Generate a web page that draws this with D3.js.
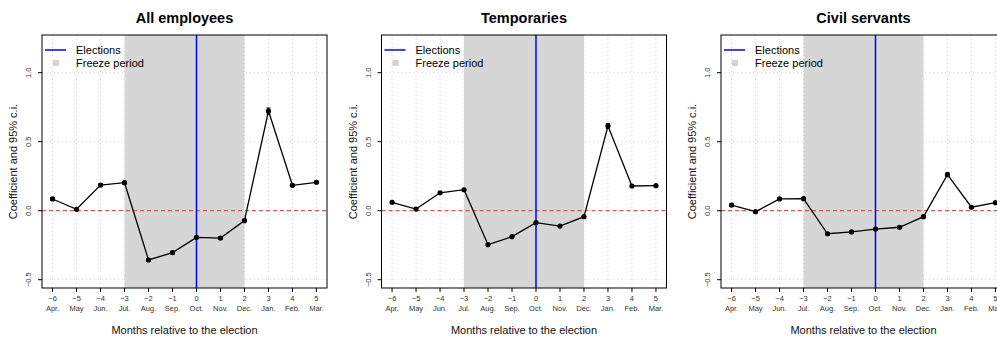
<!DOCTYPE html>
<html>
<head>
<meta charset="utf-8">
<script src="https://cdn.jsdelivr.net/npm/d3@7"></script>
<style>
  body { margin: 0; background: #fff; }
  text { font-family: "Liberation Sans", Arial, sans-serif; }
</style>
</head>
<body>
<svg id="chart" width="997" height="337"></svg>
<script>
// months relative to the election and their calendar names
const months = [-6, -5, -4, -3, -2, -1, 0, 1, 2, 3, 4, 5]
const monthNames = ["Apr.", "May", "Jun.", "Jul.", "Aug.", "Sep.", "Oct.", "Nov.", "Dec.", "Jan.", "Feb.", "Mar."]
const yTicks = [-0.5, 0.0, 0.5, 1.0]
const titles = ["All employees", "Temporaries", "Civil servants"]

// coefficients
const allEmployees = [0.085, 0.010, 0.186, 0.203, -0.357, -0.304, -0.193, -0.198, -0.072, 0.722, 0.184, 0.206]
const temporaries = [0.061, 0.012, 0.130, 0.152, -0.246, -0.188, -0.087, -0.111, -0.043, 0.614, 0.179, 0.181]
const civilServants = [0.041, -0.007, 0.085, 0.087, -0.167, -0.154, -0.133, -0.120, -0.043, 0.261, 0.025, 0.058]
// half width of the 95% c.i.
const ciAll = [0.010, 0.008, 0.010, 0.010, 0.010, 0.010, 0.010, 0.010, 0.010, 0.022, 0.010, 0.010]
const ciTemp = [0.008, 0.008, 0.008, 0.008, 0.010, 0.008, 0.008, 0.008, 0.008, 0.018, 0.008, 0.008]
const ciCivil = [0.008, 0.008, 0.008, 0.008, 0.008, 0.008, 0.008, 0.008, 0.008, 0.014, 0.008, 0.008]

const freeze = [-3, 2]
const election = 0

const series = [allEmployees, temporaries, civilServants]
const cis = [ciAll, ciTemp, ciCivil]

const svg = d3.select('#chart')
const panelW = 339.5
const margin = {top: 35, left: 42, plotW: 285, bottom: 288}

const y = d3.scaleLinear().domain([-0.56, 1.273]).range([margin.bottom, margin.top])
const minus = s => s.replace('-', '\u2212')

titles.forEach((title, p) => {
  const x0 = margin.left + p * panelW
  const x = d3.scaleLinear().domain([-6.44, 5.44]).range([x0, x0 + margin.plotW])
  const g = svg.append('g')
  const clipId = 'clip' + p
  g.append('clipPath').attr('id', clipId)
    .append('rect').attr('x', x0).attr('y', margin.top)
    .attr('width', margin.plotW).attr('height', margin.bottom - margin.top)
  const inner = g.append('g').attr('clip-path', `url(#${clipId})`)

  // grid
  inner.selectAll('.vgrid').data(months).enter().append('line')
    .attr('x1', d => x(d)).attr('x2', d => x(d))
    .attr('y1', margin.top).attr('y2', margin.bottom)
    .attr('stroke', '#d3d3d3').attr('stroke-width', 1).attr('stroke-dasharray', '1,3')
  inner.selectAll('.hgrid').data(yTicks).enter().append('line')
    .attr('x1', x0).attr('x2', x0 + margin.plotW)
    .attr('y1', d => y(d)).attr('y2', d => y(d))
    .attr('stroke', '#d3d3d3').attr('stroke-width', 1).attr('stroke-dasharray', '1,3')

  // freeze period
  inner.append('rect')
    .attr('x', x(freeze[0])).attr('y', margin.top)
    .attr('width', x(freeze[1]) - x(freeze[0])).attr('height', margin.bottom - margin.top)
    .attr('fill', '#d6d6d6')

  // zero line
  inner.append('line')
    .attr('x1', x0).attr('x2', x0 + margin.plotW)
    .attr('y1', y(0)).attr('y2', y(0))
    .attr('stroke', '#ff2020').attr('stroke-width', 1).attr('stroke-dasharray', '4,3')

  // election line
  inner.append('line')
    .attr('x1', x(election)).attr('x2', x(election))
    .attr('y1', margin.top).attr('y2', margin.bottom)
    .attr('stroke', '#0000ff').attr('stroke-width', 1.5)

  const vals = series[p]
  const ci = cis[p]
  inner.append('path')
    .datum(months)
    .attr('fill', 'none').attr('stroke', '#000').attr('stroke-width', 1.3)
    .attr('d', d3.line().x(d => x(d)).y((d, i) => y(vals[i])))
  inner.selectAll('.err').data(months).enter().append('line')
    .attr('x1', d => x(d)).attr('x2', d => x(d))
    .attr('y1', (d, i) => y(vals[i] - ci[i])).attr('y2', (d, i) => y(vals[i] + ci[i]))
    .attr('stroke', '#000').attr('stroke-width', 1.3)
  inner.selectAll('.cap').data(months).enter().append('path')
    .attr('d', (d, i) => `M${x(d) - 2},${y(vals[i] - ci[i])}h4M${x(d) - 2},${y(vals[i] + ci[i])}h4`)
    .attr('stroke', '#000').attr('stroke-width', 1)
  inner.selectAll('.pt').data(months).enter().append('circle')
    .attr('cx', d => x(d)).attr('cy', (d, i) => y(vals[i]))
    .attr('r', 2.6).attr('fill', '#000')

  // box
  g.append('rect')
    .attr('x', x0).attr('y', margin.top)
    .attr('width', margin.plotW).attr('height', margin.bottom - margin.top)
    .attr('fill', 'none').attr('stroke', '#000').attr('stroke-width', 1)

  // x axis
  g.selectAll('.xt').data(months).enter().append('line')
    .attr('x1', d => x(d)).attr('x2', d => x(d))
    .attr('y1', margin.bottom).attr('y2', margin.bottom + 4)
    .attr('stroke', '#000')
  g.selectAll('.xl1').data(months).enter().append('text')
    .attr('x', d => x(d)).attr('y', 301)
    .attr('text-anchor', 'middle').attr('font-size', 7.5).attr('fill', '#333')
    .text(d => minus(String(d)))
  g.selectAll('.xl2').data(monthNames).enter().append('text')
    .attr('x', (d, i) => x(months[i])).attr('y', 311)
    .attr('text-anchor', 'middle').attr('font-size', 7.5).attr('fill', '#333')
    .text(d => d)
  g.append('text')
    .attr('x', x0 + margin.plotW / 2).attr('y', 334)
    .attr('text-anchor', 'middle').attr('font-size', 11).attr('fill', '#111')
    .text('Months relative to the election')

  // y axis
  g.selectAll('.yt').data(yTicks).enter().append('line')
    .attr('x1', x0 - 4).attr('x2', x0)
    .attr('y1', d => y(d)).attr('y2', d => y(d))
    .attr('stroke', '#000')
  g.selectAll('.yl').data(yTicks).enter().append('text')
    .attr('transform', d => `translate(${x0 - 11},${y(d)}) rotate(-90)`)
    .attr('text-anchor', 'middle').attr('font-size', 7.5).attr('fill', '#333')
    .text(d => minus(d.toFixed(1)))
  g.append('text')
    .attr('transform', `translate(${x0 - 25},${(margin.top + margin.bottom) / 2}) rotate(-90)`)
    .attr('text-anchor', 'middle').attr('font-size', 11).attr('fill', '#111')
    .text('Coefficient and 95% c.i.')

  // title
  g.append('text')
    .attr('x', x0 + margin.plotW / 2).attr('y', 23)
    .attr('text-anchor', 'middle').attr('font-size', 14.5).attr('font-weight', 'bold')
    .text(title)

  // legend
  const legend = g.append('g').attr('transform', `translate(${x0},${margin.top})`)
  legend.append('line')
    .attr('x1', 3).attr('x2', 24).attr('y1', 15).attr('y2', 15)
    .attr('stroke', '#0000ff').attr('stroke-width', 1.5)
  legend.append('text').attr('x', 34).attr('y', 19).attr('font-size', 11).text('Elections')
  legend.append('rect')
    .attr('x', 11).attr('y', 25).attr('width', 6).attr('height', 6)
    .attr('fill', '#d3d3d3')
  legend.append('text').attr('x', 34).attr('y', 32).attr('font-size', 11).text('Freeze period')
})
</script>
</body>
</html>
